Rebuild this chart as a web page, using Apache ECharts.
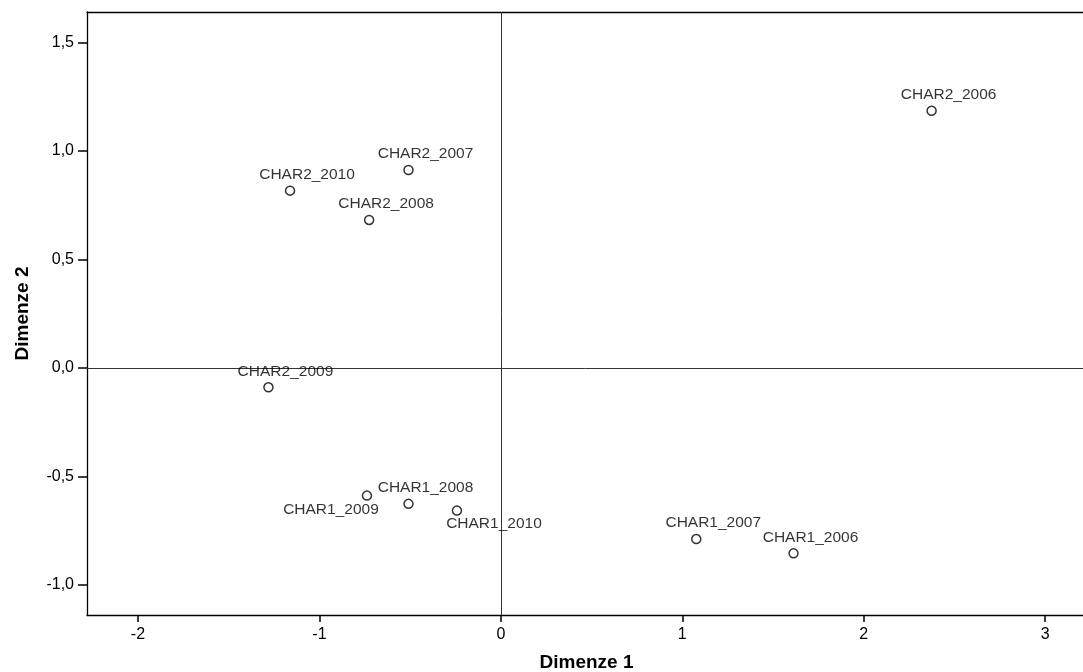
<!DOCTYPE html>
<html>
<head>
<meta charset="utf-8">
<script src="https://cdn.jsdelivr.net/npm/echarts@6/dist/echarts.min.js"></script>
<style>
html,body{margin:0;padding:0;background:#fff;}
#chart{width:1083px;height:672px;}
</style>
</head>
<body>
<div id="chart"></div>
<script>
// ---- data ----
const pointNames = ['CHAR2_2006','CHAR2_2007','CHAR2_2010','CHAR2_2008','CHAR2_2009',
                    'CHAR1_2009','CHAR1_2008','CHAR1_2010','CHAR1_2007','CHAR1_2006'];
const dim1Values = [2.374, -0.509, -1.162, -0.726, -1.281, -0.738, -0.509, -0.242, 1.077, 1.613];
const dim2Values = [1.185, 0.912, 0.817, 0.682, -0.089, -0.588, -0.626, -0.657, -0.788, -0.854];
const xTicks = [-2, -1, 0, 1, 2, 3];
const yTicks = [-1.0, -0.5, 0.0, 0.5, 1.0, 1.5];
const xAxisTitle = 'Dimenze 1';
const yAxisTitle = 'Dimenze 2';

// ---- label placement (style) ----
const defaultLabelOffset = [17, -16];
const specialLabelOffset = { 'CHAR1_2009': [-36, 14], 'CHAR1_2010': [37, 13] };

const FONT = '"Liberation Sans", Arial, sans-serif';
const X_MIN = -2.281, X_MAX = 3.225, Y_MIN = -1.138, Y_MAX = 1.64;

const seriesData = pointNames.map((n, i) => ({
  name: n,
  value: [dim1Values[i], dim2Values[i]],
  label: { offset: specialLabelOffset[n] || defaultLabelOffset }
}));

const chart = echarts.init(document.getElementById('chart'), null, { renderer: 'canvas' });
chart.setOption({
  animation: false,
  backgroundColor: '#fff',
  grid: { left: 87, top: 12, right: -3, bottom: 57, show: false, containLabel: false, outerBoundsMode: 'none' },
  xAxis: [{
    type: 'value', min: X_MIN, max: X_MAX, position: 'bottom',
    name: xAxisTitle, nameLocation: 'middle', nameGap: 38,
    nameTextStyle: { fontFamily: FONT, fontSize: 19, fontWeight: 'bold', color: '#000' },
    axisLine: { show: true, onZero: false, lineStyle: { color: '#000', width: 1.3 } },
    axisTick: { show: true, length: 7, customValues: xTicks, lineStyle: { color: '#000', width: 1.5 } },
    axisLabel: { customValues: xTicks, fontFamily: FONT, fontSize: 16, color: '#000', margin: 12,
                 formatter: v => String(v) },
    splitLine: { show: false }
  }, {
    type: 'value', min: X_MIN, max: X_MAX, position: 'top',
    axisLine: { show: true, onZero: false, lineStyle: { color: '#000', width: 1.3 } },
    axisTick: { show: false }, axisLabel: { show: false }, splitLine: { show: false }
  }],
  yAxis: {
    type: 'value', min: Y_MIN, max: Y_MAX,
    name: yAxisTitle, nameLocation: 'middle', nameGap: 55, nameRotate: 90,
    nameTextStyle: { fontFamily: FONT, fontSize: 19, fontWeight: 'bold', color: '#000' },
    axisLine: { show: true, onZero: false, lineStyle: { color: '#000', width: 1.3 } },
    axisTick: { show: true, length: 9, customValues: yTicks, lineStyle: { color: '#000', width: 1.5 } },
    axisLabel: { customValues: yTicks, fontFamily: FONT, fontSize: 16, color: '#000', margin: 13,
                 formatter: v => v.toFixed(1).replace('.', ',') },
    splitLine: { show: false }
  },
  series: [{
    type: 'scatter',
    symbol: 'circle',
    symbolSize: 9,
    itemStyle: { color: '#fff', borderColor: '#000', borderWidth: 1.5 },
    label: {
      show: true, position: 'inside', formatter: p => p.name,
      fontFamily: FONT, fontSize: 15.5, color: '#000'
    },
    emphasis: { disabled: true },
    data: seriesData,
    markLine: {
      silent: true, symbol: ['none', 'none'],
      label: { show: false },
      lineStyle: { color: '#333', width: 1, type: 'solid' },
      data: [{ xAxis: 0 }, { yAxis: 0 }],
      z: 1
    },
    z: 3
  }]
});
</script>
</body>
</html>
